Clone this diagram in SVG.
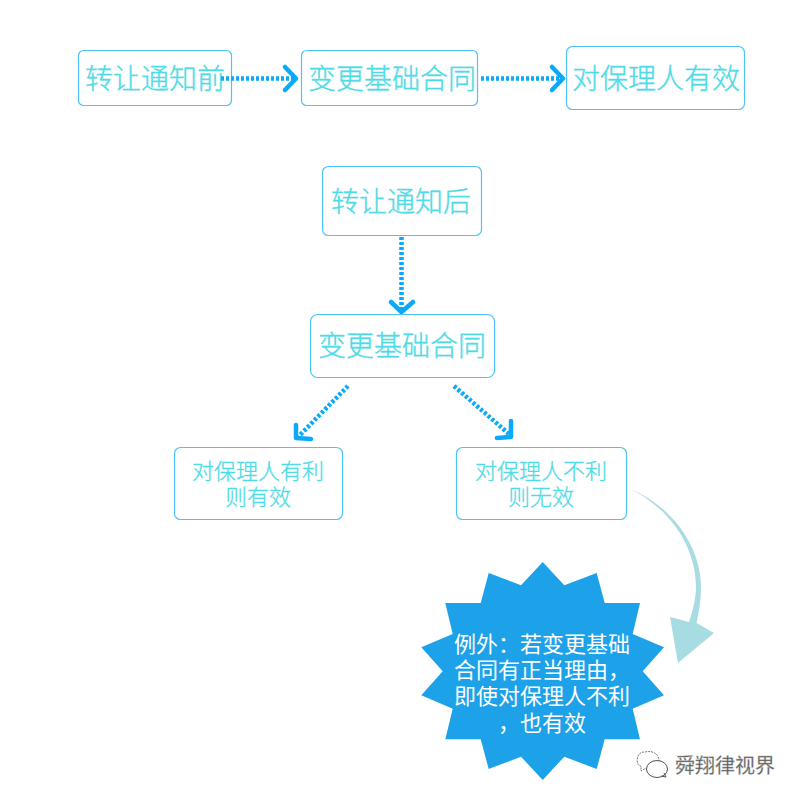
<svg xmlns="http://www.w3.org/2000/svg" width="800" height="800" viewBox="0 0 800 800">
<style>
text{font-family:"Noto Sans CJK SC","Noto Sans",sans-serif;text-anchor:middle;dominant-baseline:central}
.b{fill:#fff;stroke:#4cc4f7;stroke-width:1.2}
.t{fill:#4fdbe6;font-size:28px;font-weight:300;stroke:#4fdbe6;stroke-width:.35}
.s{fill:#4fdbe6;font-size:22px;font-weight:300;stroke:#4fdbe6;stroke-width:.3}
.w{fill:#fff;font-size:22px}
.d{fill:none;stroke:#0aa9fb;stroke-width:4.5;stroke-dasharray:3 2}
.c{fill:none;stroke:#0aa9fb;stroke-width:4.5;stroke-linecap:round;stroke-linejoin:round}
</style>
<rect width="800" height="800" fill="#fff"/>
<g id="n1"><rect class="b" x="78.500" y="50.500" width="153" height="55" rx="5"/><text class="t" x="155" y="77">转让通知前</text></g>
<g id="n2"><rect class="b" x="301.500" y="50.500" width="176" height="55" rx="5"/><text class="t" x="392" y="77">变更基础合同</text></g>
<g id="n3"><rect class="b" x="566.500" y="46.500" width="178" height="63" rx="6"/><text class="t" x="656" y="77">对保理人有效</text></g>
<g id="n4"><rect class="b" x="322.500" y="166.500" width="159" height="69" rx="6"/><text class="t" x="401" y="200">转让通知后</text></g>
<g id="n5"><rect class="b" x="310.500" y="314.500" width="184" height="63" rx="7"/><text class="t" x="402" y="344">变更基础合同</text></g>
<g id="n6"><rect class="b" x="174.500" y="447.500" width="168" height="72" rx="6"/><text class="s" x="258" y="468.500">对保理人有利</text><text class="s" x="258" y="494.500">则有效</text></g>
<g id="n7"><rect class="b" x="456.500" y="447.500" width="170" height="72" rx="6"/><text class="s" x="541" y="468.500">对保理人不利</text><text class="s" x="541" y="494.500">则无效</text></g>
<g id="connectors">
<path class="d" d="M221 78.500H294"/><path class="c" d="M285 67L296 78.500L285 90"/>
<path class="d" d="M481 78.500H561"/><path class="c" d="M552 67L563 78.500L552 90"/>
<path class="d" d="M401.500 237V311"/><path class="c" d="M391 302L401.500 312L413 302"/>
<path class="d" d="M348 386L298 437"/><path class="c" d="M296 425L296 438L311 439"/>
<path class="d" d="M454 386L509 434"/><path class="c" d="M511 421L511 437L497 438"/>
<path fill="#a6dce2" d="M630 489C670 505 701 545 701 587C701 600 699 612 696.500 623L714 633L678 663L670 617L689 622C693 610 696 598 696 587C696 545 668 507 630 489Z"/>
</g>
<g id="n8">
<polygon fill="#1da2ea" points="542.700,562 564.300,585.300 596.700,573 604.700,603 640,603 632.700,634 664,647.300 642.700,671.300 664,695.300 632.700,708.700 640,739.300 604.700,739.300 596.700,769 564.300,756.700 542.700,780 521,756.700 488.700,769 480.700,739.300 445.300,739.300 452.700,708.700 421.300,695.300 442.700,671.300 421.300,647.300 452.700,634 445.300,603 480.700,603 488.700,573 521,585.300"/>
<text class="w" x="542" y="641.500">例外：若变更基础</text>
<text class="w" x="542" y="668">合同有正当理由，</text>
<text class="w" x="542" y="694">即使对保理人不利</text>
<text class="w" x="542" y="720.500">，也有效</text>
</g>
<g id="watermark">
<path fill="#fff" stroke="#777" stroke-width="1" stroke-dasharray="2 1" d="M644 752C635 752 636 767 641 766L641 771L646 768M645 752C654 750 659 755 659 761"/>
<ellipse cx="657" cy="769" rx="10.500" ry="8.500" fill="#fff" stroke="#555" stroke-width="1"/>
<path fill="none" stroke="#555" stroke-width="1" d="M661 776L666 777L664 773"/>
<text x="725" y="764" font-size="20px" fill="#555" stroke="#bbb" stroke-width=".4">舜翔律视界</text>
</g>
</svg>
